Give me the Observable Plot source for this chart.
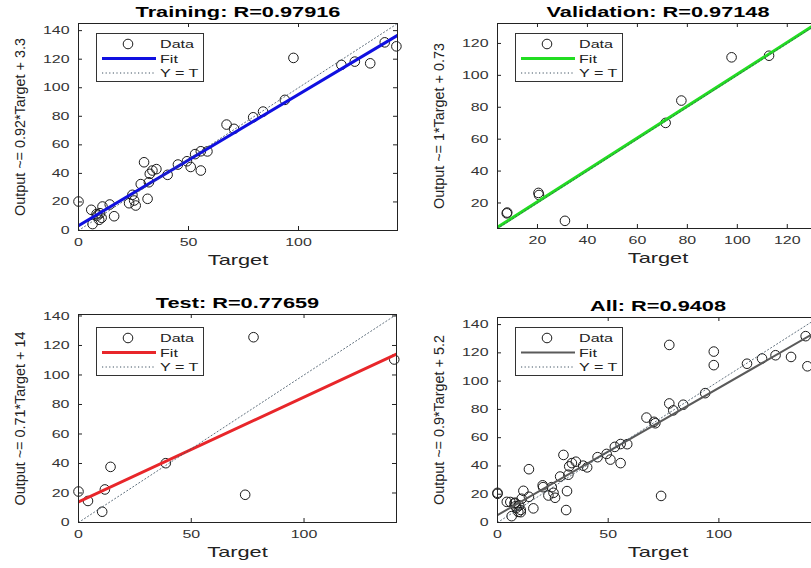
<!DOCTYPE html>
<html><head><meta charset="utf-8">
<script src="https://cdn.jsdelivr.net/npm/d3@7"></script>
<script src="https://cdn.jsdelivr.net/npm/@observablehq/plot@0.6"></script>
<style>
html,body{margin:0;padding:0;background:#fff;}
#chart{position:relative;width:811px;height:568px;overflow:hidden;background:#fff;font-family:'Liberation Sans',Arial,sans-serif;}
.panel{position:absolute;}
.panel svg{position:absolute;left:0;top:0;overflow:visible;}
</style></head><body><div id="chart"></div>
<script>
// ---- data ----
const trainTarget = [0, 5.8, 6.4, 8.2, 8.6, 9.4, 9.8, 10.5, 10.9, 14.2, 16.2, 23, 24.5, 25.3, 26, 28.3, 29.8, 31.4, 32, 32.4, 33.6, 35.4, 40.5, 45.2, 49.3, 51, 53, 55.6, 55.6, 58.6, 67.3, 70.7, 79.4, 83.9, 93.8, 97.7, 119.5, 125.6, 132.6, 139.2, 144.5];
const trainOutput = [20.3, 14.5, 4.5, 11.5, 10.5, 7.5, 12.1, 8.9, 16.8, 18.2, 10, 19.1, 25, 21, 17.5, 32.5, 47.8, 22.2, 33.8, 39.7, 42, 43, 39, 46.2, 48.5, 44.5, 53.5, 42, 55.5, 55.4, 74.2, 71.2, 79.3, 83.3, 91.5, 120.9, 116, 118.3, 117.1, 131.8, 129];
const valTarget = [7.7, 7.9, 20.4, 20.6, 31, 71.3, 77.6, 97.7, 112.7];
const valOutput = [13.5, 14, 26.3, 25, 8.8, 70.2, 84.2, 111.3, 112.3];
const testTarget = [0, 4.2, 10.5, 11.7, 14.2, 38.7, 73.9, 77.6, 140];
const testOutput = [21, 14.6, 7.3, 22.4, 37.7, 40.2, 18.8, 125.6, 110.5];

const panelNames = ["Training", "Validation", "Test", "All"];
const rValues = ["0.97916", "0.97148", "0.77659", "0.9408"];
const fitSlopes = [0.92, 1, 0.71, 0.9];
const fitIntercepts = [3.3, 0.73, 14, 5.2];
const fitLabels = ["0.92", "1", "0.71", "0.9"];
const fitInterceptLabels = ["3.3", "0.73", "14", "5.2"];
const fitColors = ["#1010e0", "#22dd22", "#e8262a", "#5a5a5a"];
const axisDomains = [[0, 145], [4, 132.5], [0, 141], [0, 145]];
const xTickSets = [[0, 50, 100], [20, 40, 60, 80, 100, 120], [0, 50, 100], [0, 50, 100]];
const yTickSets = [[0, 20, 40, 60, 80, 100, 120, 140], [20, 40, 60, 80, 100, 120], [0, 20, 40, 60, 80, 100, 120, 140], [0, 20, 40, 60, 80, 100, 120, 140]];
const legendLabels = ["Data", "Fit", "Y = T"];

// ---- layout ----
const layout = [
  {left: 0,   top: 0,   width: 410, height: 280, ml: 78, mr: 13, mt: 23, mb: 50, fitW: 3,   legTop: 10},
  {left: 410, top: 0,   width: 420, height: 280, ml: 87, mr: 12, mt: 23, mb: 52, fitW: 3,   legTop: 10},
  {left: 0,   top: 285, width: 410, height: 283, ml: 78, mr: 14, mt: 29, mb: 46, fitW: 3,   legTop: 12.5},
  {left: 410, top: 285, width: 420, height: 283, ml: 87, mr: 12, mt: 32, mb: 46, fitW: 2,   legTop: 10}
];

const zip = (T, O) => T.map((t, i) => ({t, o: O[i]}));
const datasets = [
  zip(trainTarget, trainOutput),
  zip(valTarget, valOutput),
  zip(testTarget, testOutput),
  zip(trainTarget.concat(valTarget, testTarget), trainOutput.concat(valOutput, testOutput))
];

function stretch(svg, k) {
  svg.querySelectorAll("text").forEach(el => {
    const tr = el.getAttribute("transform") || "";
    if (tr.includes("rotate")) return;
    const L = el.getComputedTextLength();
    if (L > 0) {
      el.setAttribute("textLength", (L * k).toFixed(2));
      el.setAttribute("lengthAdjust", "spacingAndGlyphs");
    }
  });
}

const chart = document.getElementById("chart");

panelNames.forEach((name, i) => {
  const L = layout[i];
  const W = L.width - L.ml - L.mr, H = L.height - L.mt - L.mb;
  const domain = axisDomains[i];
  const fitPts = domain.map(t => ({t, o: fitSlopes[i] * t + fitIntercepts[i]}));
  const idPts = domain.map(t => ({t, o: t}));
  const title = `${name}: R=${rValues[i]}`;
  const ylabel = `Output ~= ${fitLabels[i]}*Target + ${fitInterceptLabels[i]}`;

  const plot = Plot.plot({
    width: L.width, height: L.height,
    marginLeft: L.ml, marginRight: L.mr, marginTop: L.mt, marginBottom: L.mb,
    x: {domain, label: null},
    y: {domain, label: null},
    style: {fontFamily: "'Liberation Sans', Arial, sans-serif", fontSize: "11px", color: "#333", background: "transparent", overflow: "visible"},
    marks: [
      Plot.dot(datasets[i], {x: "t", y: "o", r: 4.8, stroke: "#1a1a1a", strokeWidth: 1}),
      Plot.line(fitPts, {x: "t", y: "o", stroke: fitColors[i], strokeWidth: L.fitW, clip: true}),
      Plot.line(idPts, {x: "t", y: "o", stroke: "#3d5060", strokeWidth: 1, strokeDasharray: "1.2,2.4", strokeOpacity: 0.8, clip: true}),
      Plot.frame({stroke: "#222"}),
      Plot.tickX(xTickSets[i], {x: d => d, stroke: "#222", insetTop: H - 4}),
      Plot.tickX(xTickSets[i], {x: d => d, stroke: "#222", insetBottom: H - 4}),
      Plot.tickY(yTickSets[i], {y: d => d, stroke: "#222", insetRight: W - 4}),
      Plot.tickY(yTickSets[i], {y: d => d, stroke: "#222", insetLeft: W - 4}),
      Plot.axisX({ticks: xTickSets[i], tickSize: 0, tickPadding: 8, tickFormat: d => String(d), fill: "#333"}),
      Plot.axisY({ticks: yTickSets[i], tickSize: 0, tickPadding: 9, tickFormat: d => String(d), fill: "#333"}),
      Plot.text([title], {text: d => d, frameAnchor: "top", dy: -11, lineAnchor: "middle", fontWeight: "bold", fontSize: 15, fill: "#000"}),
      Plot.text(["Target"], {text: d => d, frameAnchor: "bottom", dy: 34, lineAnchor: "bottom", fontSize: 15, fill: "#222"}),
      Plot.text([ylabel], {text: d => d, frameAnchor: "left", dx: -58, rotate: -90, textAnchor: "middle", lineAnchor: "middle", fontSize: 14.4, fill: "#222"})
    ]
  });

  const div = document.createElement("div");
  div.className = "panel";
  div.style.left = L.left + "px";
  div.style.top = L.top + "px";
  div.style.width = L.width + "px";
  div.style.height = L.height + "px";
  div.appendChild(plot);
  chart.appendChild(div);
  stretch(plot, 1.45);

  // legend
  const leg = d3.select(div).append("svg")
    .attr("width", 108).attr("height", 49)
    .style("left", (L.ml + 18) + "px").style("top", (L.mt + L.legTop) + "px")
    .style("font-family", "'Liberation Sans', Arial, sans-serif");
  leg.append("rect").attr("x", 0.5).attr("y", 0.5).attr("width", 107).attr("height", 48)
    .attr("fill", "#fff").attr("stroke", "#333");
  leg.append("circle").attr("cx", 32).attr("cy", 11).attr("r", 4.8).attr("fill", "none").attr("stroke", "#1a1a1a");
  leg.append("line").attr("x1", 6).attr("x2", 60).attr("y1", 25.5).attr("y2", 25.5)
    .attr("stroke", fitColors[i]).attr("stroke-width", L.fitW);
  leg.append("line").attr("x1", 6).attr("x2", 60).attr("y1", 40).attr("y2", 40)
    .attr("stroke", "#3d5060").attr("stroke-width", 1).attr("stroke-dasharray", "1.2,2.4");
  const rowsY = [11, 25.5, 40];
  legendLabels.forEach((lab, j) => {
    leg.append("text").attr("x", 64).attr("y", rowsY[j]).attr("dy", "0.36em")
      .attr("font-size", 11.5).attr("fill", "#222").text(lab);
  });
  stretch(leg.node(), 1.4);
});
</script></body></html>
